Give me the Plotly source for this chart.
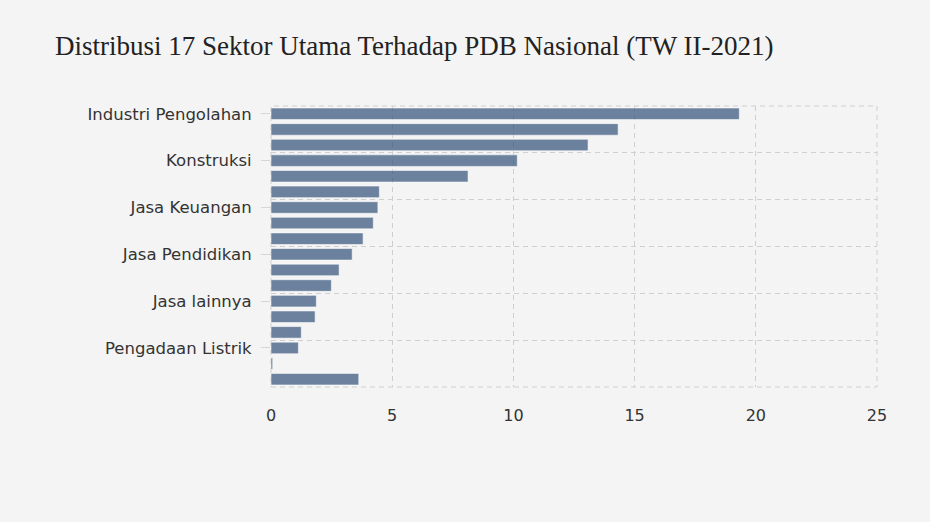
import plotly.graph_objects as go

sectors = [
    "Industri Pengolahan",
    "Pertanian, Kehutanan, dan Perikanan",
    "Perdagangan Besar dan Eceran",
    "Konstruksi",
    "Pertambangan dan Penggalian",
    "Informasi dan Komunikasi",
    "Jasa Keuangan",
    "Transportasi dan Pergudangan",
    "Administrasi Pemerintahan",
    "Jasa Pendidikan",
    "Real Estat",
    "Penyediaan Akomodasi dan Makan Minum",
    "Jasa lainnya",
    "Jasa Perusahaan",
    "Jasa Kesehatan",
    "Pengadaan Listrik",
    "Pengadaan Air",
    "Pajak Dikurang Subsidi",
]
shares = [19.32, 14.32, 13.08, 10.16, 8.13, 4.47, 4.41, 4.22, 3.80, 3.35,
          2.81, 2.49, 1.87, 1.82, 1.25, 1.13, 0.07, 3.62]
x_ticks = [0, 5, 10, 15, 20, 25]

n = len(sectors)
bg = "#f4f4f4"
grid = "#cfcfcf"
dash = "5px,4px"

fig = go.Figure()
fig.add_trace(go.Bar(
    x=shares, y=sectors, orientation="h",
    marker=dict(color="rgba(50,80,120,0.7)",
                line=dict(color="rgba(255,255,255,0.55)", width=1)),
    yaxis="y", showlegend=False,
))
# invisible copy on a linear axis that drives the category-boundary gridlines
fig.add_trace(go.Bar(
    x=shares, y=list(range(n)), orientation="h",
    marker=dict(color="rgba(0,0,0,0)", line=dict(width=0)), hoverinfo="skip",
    yaxis="y2", showlegend=False,
))

fig.update_layout(
    width=930, height=522,
    paper_bgcolor=bg, plot_bgcolor=bg,
    margin=dict(l=271, r=53, t=106, b=135),
    bargap=0.26,
    barmode="overlay",
    title=dict(
        text="Distribusi 17 Sektor Utama Terhadap PDB Nasional (TW II-2021)",
        font=dict(family="Liberation Serif", size=27, color="#222222"),
        xref="container", x=55 / 930, xanchor="left",
        yref="container", y=1 - 46 / 522, yanchor="middle",
    ),
    font=dict(family="DejaVu Sans", size=16.5, color="#333333"),
    xaxis=dict(
        range=[0, 25], tickvals=x_ticks, showgrid=True, gridcolor=grid,
        griddash=dash, gridwidth=1, zeroline=False, showline=False,
        ticks="", ticklabelstandoff=17,
        tickfont=dict(size=16, color="#333333"),
    ),
    yaxis=dict(
        type="category", range=[n - 0.5, -0.5], tickmode="linear", tick0=0, dtick=3,
        showgrid=False, zeroline=False, showline=False,
        ticks="outside", ticklen=9, tickcolor="#d6d6d6",
        tickfont=dict(size=16.5, color="#333333"), ticklabelstandoff=6,
    ),
    yaxis2=dict(
        type="linear", range=[n - 0.5, -0.5], overlaying="y", tickmode="linear",
        tick0=-0.5, dtick=3, showgrid=True, gridcolor=grid,
        griddash=dash, gridwidth=1, showticklabels=False, ticks="",
        zeroline=False, showline=False,
    ),
    shapes=[dict(
        type="rect", xref="paper", yref="paper", x0=0, x1=1, y0=0, y1=1,
        line=dict(color=grid, width=1, dash=dash), fillcolor="rgba(0,0,0,0)",
        layer="below",
    )],
)

fig.write_html("out.html", config={"displayModeBar": False},
               post_script="document.body.style.margin='0';")
